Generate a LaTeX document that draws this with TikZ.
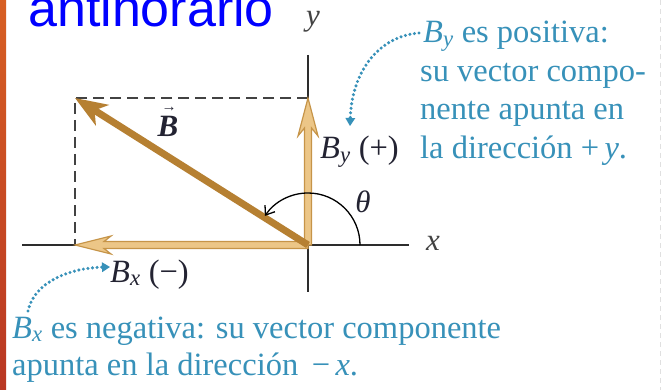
\documentclass[tikz,border=0pt]{standalone}
\usepackage{fontspec}
\setmainfont{Liberation Serif}
\newfontfamily\labelsans{Liberation Sans}
\usetikzlibrary{arrows.meta}
\definecolor{teal1}{RGB}{55,145,185}
\definecolor{darklab}{RGB}{35,35,50}
\definecolor{vecbrown}{RGB}{182,128,50}
\definecolor{compfill}{RGB}{236,198,135}
\definecolor{compedge}{RGB}{198,148,72}
\definecolor{axisgray}{RGB}{45,45,45}
\definecolor{barTop}{RGB}{215,95,35}
\definecolor{barBot}{RGB}{185,55,35}
\tikzset{
  txt/.style={inner sep=0pt, anchor=base west, font=\fontsize{32.5}{38}\selectfont},
  note/.style={txt, text=teal1},
  lab/.style={txt, text=darklab},
  axislab/.style={inner sep=0pt, font=\fontsize{31}{36}\selectfont\itshape, text=axisgray!90},
  axisline/.style={draw=axisgray, line width=1.4pt},
  comp/.style={fill=compfill, draw=compedge, line width=1.2pt, line join=miter},
  dotarrow/.style={draw=teal1, line width=3.4pt, line cap=round, dash pattern=on 0pt off 4.6pt,
     -{Triangle[length=8pt,width=10pt,line width=0pt]}},
  guide/.style={draw=axisgray!90, line width=1.6pt, dash pattern=on 11pt off 6pt},
}
\begin{document}
\begin{tikzpicture}[x=1pt,y=-1pt]
\useasboundingbox (0,0) rectangle (663,390);
\fill[white] (0,0) rectangle (663,390);
% left bar
\shade[top color=barTop, bottom color=barBot] (0,0) rectangle (6,390);
% faint right edge
\draw[black!12, line width=1pt, dash pattern=on 5pt off 4pt] (660,0) -- (660,390);

% coordinates
\coordinate (O) at (308,245);
\coordinate (Bt) at (75,98);
\coordinate (Yt) at (308,98);
\coordinate (Xt) at (75,245);

% axes
\draw[axisline] (22,245) coordinate (xl) -- (409,245) coordinate (xr);
\draw[axisline] (308,55) coordinate (yt) -- (308,292) coordinate (yb);
\node[axislab] (xlab) at (433,243) {x};
\node[axislab] (ylab) at (313,22) {y};

% dashed guides
\draw[guide] (Yt) -- (Bt) -- (Xt);

% component vectors
\draw[comp] (311.5,245) -- (311.5,128) -- (318,136) -- (Yt) -- (298,136) -- (304.5,128) -- (304.5,245) -- cycle;
\draw[comp] (308,248.5) -- (104,248.5) -- (111,254) -- (Xt) -- (111,236) -- (104,241.5) -- (308,241.5) -- cycle;

% main vector
\draw[vecbrown, line width=7pt, -{Stealth[length=32pt,width=24pt,inset=9pt]}] (O) -- (Bt);

% angle arc
\draw[black, line width=1.3pt, -{Straight Barb[length=8pt,width=12pt]}] (O) ++(52,0) arc[start angle=0, end angle=-146, radius=52];
\node[axislab, text=darklab] (theta) at (363,202) {θ};

% labels
\node[inner sep=0pt, anchor=base, text=darklab, font=\fontsize{31}{36}\selectfont] (Blab) at (168,137)
  {\rlap{\raisebox{25pt}{\hspace{4pt}\fontsize{15}{15}\selectfont →}}\textbf{\textit{B}}};
\node[lab] (Bylab) at (320,159) {\textit{B}\textsubscript{\textit{y}}\ (+)};
\node[lab] (Bxlab) at (110,282) {\textit{B}\textsubscript{\textit{x}}\ (−)};

% notes
\node[note] (n1) at (423,43) {\textit{B}\textsubscript{\textit{y}} es positiva:};
\node[note] (n2) at (420,81.5) {su vector compo-};
\node[note] (n3) at (420,120) {nente apunta en};
\node[note] (n4) at (420,158.5) {la dirección +\,\textit{y}.};
\node[note] (m1) at (12,338) {\textit{B}\textsubscript{\textit{x}} es negativa: su vector componente};
\node[note] (m2) at (12,375) {apunta en la dirección \,−\,\textit{x}.};

% title
\node[inner sep=0pt, anchor=base west, text={rgb,255:red,0;green,0;blue,255},
      font=\labelsans\fontsize{52}{56}\selectfont] (title) at (28,27) {antihorario};

% dotted pointers
\coordinate (p1s) at (419,33);
\coordinate (p1e) at (350,126);
\draw[dotarrow] (p1s) .. controls (380,36) and (352,70) .. (p1e);
\coordinate (p2s) at (28,311);
\coordinate (p2e) at (110,267);
\draw[dotarrow] (p2s) .. controls (34,282) and (70,268) .. (p2e);
\end{tikzpicture}
\end{document}
